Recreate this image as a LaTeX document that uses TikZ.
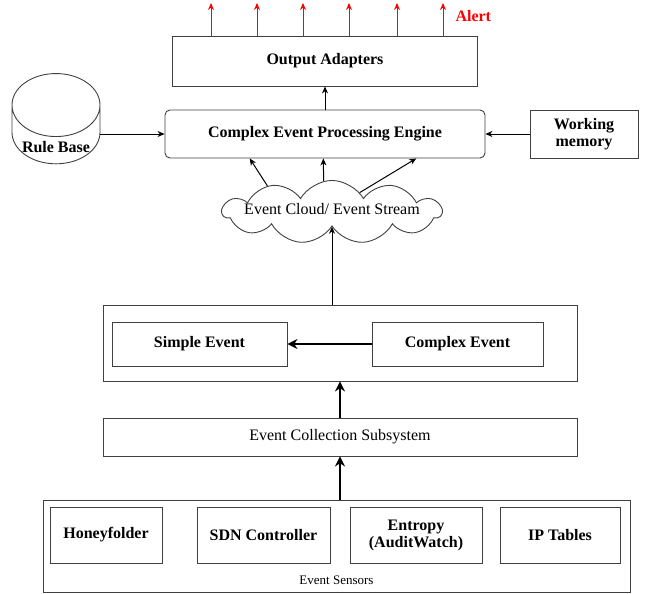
\documentclass[tikz,border=0pt]{standalone}
\usepackage{fontspec}
\setmainfont{Liberation Serif}
\usetikzlibrary{shapes.geometric,shapes.symbols,arrows.meta}

\begin{document}
\begin{tikzpicture}[x=1pt, y=-1pt]
  \tikzset{
    box/.style={draw=black!75, line width=0.9pt, align=center, inner sep=1pt,
      font=\fontsize{16}{17}\selectfont\bfseries},
    plainbox/.style={box, font=\fontsize{16}{17}\selectfont},
    flow/.style={-{Stealth[length=7pt,width=6pt]}, line width=1pt},
    thick flow/.style={-{Stealth[length=10pt,width=10pt]}, line width=2.6pt},
    alert flow/.style={-{Stealth[length=7pt,width=6pt]}, line width=1pt, red}
  }
  \useasboundingbox (0,0) rectangle (646,594);

  % top part
  \node[box, minimum width=305, minimum height=50] (out) at (325,61) {Output Adapters};
  \node[box, rounded corners=5pt, minimum width=320, minimum height=48] (cep) at (325,134)
    {Complex Event Processing Engine};
  \node[box, cylinder, shape border rotate=90, shape aspect=0.9,
    minimum width=88, minimum height=86] (rules) at (56,138)
    {\raisebox{-14pt}[0pt][0pt]{Rule Base}};
  \node[box, minimum width=108, minimum height=48] (wmem) at (584,134) {Working\\memory};
  \node[plainbox, cloud, cloud puffs=11, cloud puff arc=120, aspect=8,
    inner sep=0pt] (cloud) at (332,212)
    {\makebox[158pt][c]{\raisebox{0pt}[5pt][0pt]{Event Cloud/ Event Stream}}};

  % alerts
  \foreach \x [count=\i] in {211,257,303,349,397,443}{
    \coordinate (a\i) at (\x,3);
    \draw[alert flow] (out.north -| a\i) -- (a\i);
  }
  \node[anchor=west, text=red, font=\fontsize{16}{17}\selectfont\bfseries] (alert) at (452,16) {Alert};

  % events
  \node[box, minimum width=474, minimum height=76] (events) at (340,343) {};
  \node[box, minimum width=175, minimum height=44] (simple) at (199.5,344) {Simple Event};
  \node[box, minimum width=171, minimum height=44] (complex) at (457.5,344) {Complex Event};
  \node[plainbox, minimum width=474, minimum height=38] (collect) at (340,437)
    {Event Collection Subsystem};

  % sensors
  \node[box, minimum width=587, minimum height=92] (sensors) at (336.5,546) {};
  \node[font=\fontsize{13}{14}\selectfont] (senslabel) at (336.5,580) {Event Sensors};
  \node[box, minimum width=112, minimum height=56] (honey) at (106,535) {Honeyfolder};
  \node[box, minimum width=133, minimum height=56] (sdn) at (263.5,535) {SDN Controller};
  \node[box, minimum width=132, minimum height=56] (entropy) at (416,535)
    {Entropy\\(AuditWatch)};
  \node[box, minimum width=120, minimum height=56] (iptab) at (560,535) {IP Tables};

  % connectors
  \draw[flow] (cep.north) -- (out.south);
  \draw[flow] (rules.east |- cep.west) -- (cep.west);
  \draw[flow] (wmem.west) -- (cep.east);
  \draw[flow] (cloud.158) -- (cep.198);
  \draw[flow] (cloud.105) -- (cep.266);
  \draw[flow] (cloud.35) -- (cep.345);
  \draw[flow] (events.north -| cloud.south) -- (cloud.south);
  \draw[thick flow] (complex.west) -- (simple.east);
  \draw[thick flow] (collect.north) -- (events.south);
  \draw[thick flow] (sensors.north -| collect.south) -- (collect.south);
\end{tikzpicture}
\end{document}
